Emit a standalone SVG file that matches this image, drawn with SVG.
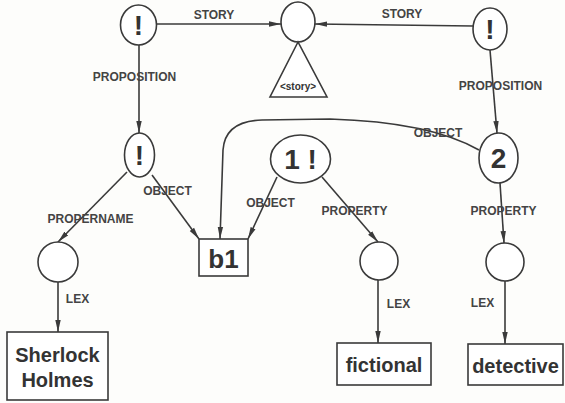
<svg xmlns="http://www.w3.org/2000/svg" width="565" height="403" viewBox="0 0 565 403">
<defs>
<marker id="ah" markerWidth="13" markerHeight="7" refX="12" refY="3.5" orient="auto" markerUnits="userSpaceOnUse">
<path d="M0,0.8 L12,3.5 L0,6.2 z" fill="#3a3a3a"/>
</marker>
</defs>
<style>
.n{fill:#fff;stroke:#3a3a3a;stroke-width:1.6}
.e{fill:none;stroke:#3a3a3a;stroke-width:1.6;marker-end:url(#ah)}
.l{font-family:"Liberation Sans",Arial,sans-serif;font-weight:bold;font-size:12px;fill:#444;text-anchor:middle}
.t{font-family:"Liberation Sans",Arial,sans-serif;font-weight:bold;fill:#333;text-anchor:middle}
</style>
<rect width="565" height="403" fill="#fdfdfb"/>
<g id="connectors">
<line class="e" x1="157" y1="24" x2="281" y2="24"/>
<text class="l" x="214" y="19">STORY</text>
<line class="e" x1="473" y1="26" x2="315" y2="24"/>
<text class="l" x="402" y="18">STORY</text>
<line class="e" x1="139" y1="45" x2="139" y2="133"/>
<text class="l" x="134.5" y="81">PROPOSITION</text>
<line class="e" x1="490" y1="50" x2="497" y2="133"/>
<text class="l" x="500.5" y="90">PROPOSITION</text>
<line class="e" x1="127" y1="172" x2="58" y2="242"/>
<text class="l" x="90.5" y="223">PROPERNAME</text>
<line class="e" x1="152" y1="175" x2="199" y2="239"/>
<text class="l" x="167.5" y="195">OBJECT</text>
<line class="e" x1="277" y1="177" x2="248" y2="239"/>
<text class="l" x="270.5" y="207">OBJECT</text>
<path class="e" d="M479,150 Q430,122 330,119 L262,120 Q225,121 223,150 L220,239"/>
<text class="l" x="438" y="137">OBJECT</text>
<line class="e" x1="322" y1="177" x2="378" y2="242"/>
<text class="l" x="354.5" y="215">PROPERTY</text>
<line class="e" x1="500" y1="183" x2="504" y2="243"/>
<text class="l" x="503.5" y="215">PROPERTY</text>
<line class="e" x1="58" y1="282" x2="58" y2="332"/>
<text class="l" x="77.5" y="303">LEX</text>
<line class="e" x1="378" y1="280" x2="378" y2="343"/>
<text class="l" x="398.5" y="308">LEX</text>
<line class="e" x1="505" y1="281" x2="505" y2="344"/>
<text class="l" x="482.5" y="307">LEX</text>
</g>
<g id="m1">
<ellipse class="n" cx="138.5" cy="25" rx="18" ry="20"/>
<text class="t" x="138.5" y="35" font-size="28">!</text>
</g>
<g id="story">
<ellipse class="n" cx="298" cy="22" rx="17" ry="20"/>
<path class="n" d="M298,42 L270,97 L327,97 Z"/>
<text class="t" x="298" y="90" font-size="10">&lt;story&gt;</text>
</g>
<g id="m3">
<ellipse class="n" cx="490" cy="29" rx="17" ry="21"/>
<text class="t" x="490" y="39" font-size="28">!</text>
</g>
<g id="m2">
<ellipse class="n" cx="139.5" cy="155" rx="15" ry="22"/>
<text class="t" x="139.5" y="165" font-size="28">!</text>
</g>
<g id="m4">
<ellipse class="n" cx="300.5" cy="159" rx="30" ry="24"/>
<text class="t" x="300.5" y="169" font-size="28">1 !</text>
</g>
<g id="m5">
<ellipse class="n" cx="498.5" cy="158" rx="19.5" ry="25"/>
<text class="t" x="498.5" y="168" font-size="28">2</text>
</g>
<g id="b1">
<rect class="n" x="199" y="239" width="49" height="37"/>
<text class="t" x="223.5" y="268" font-size="26">b1</text>
</g>
<g id="c1">
<circle class="n" cx="58" cy="262" r="20"/>
</g>
<g id="c2">
<circle class="n" cx="379" cy="261" r="19"/>
</g>
<g id="c3">
<circle class="n" cx="505" cy="262" r="19"/>
</g>
<g id="sherlock">
<rect class="n" x="7" y="332" width="101" height="68"/>
<text class="t" x="57.5" y="362" font-size="20">Sherlock</text>
<text class="t" x="57.5" y="387" font-size="20">Holmes</text>
</g>
<g id="fictional">
<rect class="n" x="337" y="343" width="94" height="42"/>
<text class="t" x="384" y="372" font-size="20">fictional</text>
</g>
<g id="detective">
<rect class="n" x="468" y="344" width="95" height="41"/>
<text class="t" x="515.5" y="373" font-size="20">detective</text>
</g>
</svg>
